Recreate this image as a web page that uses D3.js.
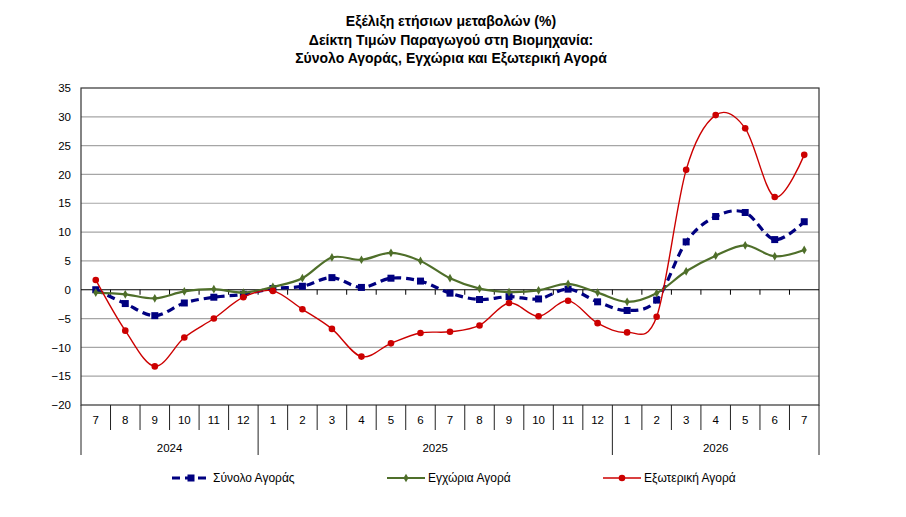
<!DOCTYPE html>
<html>
<head>
<meta charset="utf-8">
<script src="https://cdn.jsdelivr.net/npm/d3@7"></script>
<style>
    body { margin: 0; background: #fff; }
    svg text { font-family: "Liberation Sans", Arial, sans-serif; fill: #000; }
    .title { font-weight: bold; font-size: 14px; }
    .axis text { font-size: 11.5px; }
</style>
</head>
<body>
<div id="chart"></div>
<script>

// Months and years on the category axis
var months = [7, 8, 9, 10, 11, 12, 1, 2, 3, 4, 5, 6, 7, 8, 9, 10, 11, 12, 1, 2, 3, 4, 5, 6, 7];
var years = ["2024", "2025", "2026"];
var yearStart = [0, 6, 18];     // index of the first month of each year
var yTicks = [-20, -15, -10, -5, 0, 5, 10, 15, 20, 25, 30, 35];

// Annual change (%)
var totalMarket = [0.0, -2.4, -4.5, -2.3, -1.3, -0.8, 0.2, 0.6, 2.1, 0.4, 2.0, 1.5, -0.6,
    -1.7, -1.2, -1.6, 0.1, -2.1, -3.6, -1.8, 8.3, 12.7, 13.4, 8.7, 11.8];
var domesticMarket = [-0.5, -0.8, -1.5, -0.3, 0.1, -0.5, 0.5, 2.0, 5.6, 5.2, 6.4, 5.0, 2.0,
    0.2, -0.4, -0.1, 1.0, -0.5, -2.1, -0.6, 3.2, 5.9, 7.7, 5.8, 6.9];
var foreignMarket = [1.7, -7.1, -13.3, -8.3, -5.0, -1.3, -0.2, -3.4, -6.8, -11.6, -9.3, -7.5, -7.3,
    -6.2, -2.3, -4.6, -1.9, -5.8, -7.4, -4.7, 20.8, 30.3, 28.0, 16.1, 23.4];

var seriesNames = ["Σύνολο Αγοράς", "Εγχώρια Αγορά", "Εξωτερική Αγορά"];

let width = 906, height = 517;
let plot = {left: 81, right: 819, top: 88, bottom: 405};

let svg = d3.select("#chart").append("svg")
    .attr("width", width)
    .attr("height", height);

// Title
let titleLines = ["Εξέλιξη ετήσιων μεταβολών (%)",
    "Δείκτη Τιμών Παραγωγού στη Βιομηχανία:",
    "Σύνολο Αγοράς, Εγχώρια και Εξωτερική Αγορά"];
svg.selectAll(".title")
    .data(titleLines)
    .enter()
    .append("text")
    .attr("class", "title")
    .attr("x", 451)
    .attr("y", (d, i) => 26 + i * 18.5)
    .attr("text-anchor", "middle")
    .text(d => d);

// Scales
let x = d3.scaleBand()
    .domain(d3.range(months.length))
    .range([plot.left, plot.right]);

let y = d3.scaleLinear()
    .domain([-20, 35])
    .range([plot.bottom, plot.top]);

let cx = i => x(i) + x.bandwidth() / 2;

// Grid lines
svg.append("g")
    .selectAll("line")
    .data(yTicks.filter(d => d !== 0 && d !== -20 && d !== 35))
    .enter()
    .append("line")
    .attr("x1", plot.left)
    .attr("x2", plot.right)
    .attr("y1", d => y(d))
    .attr("y2", d => y(d))
    .attr("stroke", "#a6a6a6")
    .attr("stroke-width", 1.2);

// Plot frame
svg.append("rect")
    .attr("x", plot.left)
    .attr("y", plot.top)
    .attr("width", plot.right - plot.left)
    .attr("height", plot.bottom - plot.top)
    .attr("fill", "none")
    .attr("stroke", "#333")
    .attr("stroke-width", 1.2);

// Y axis
let yAxis = d3.axisLeft(y)
    .tickValues(yTicks)
    .tickSize(0)
    .tickPadding(10);

svg.append("g")
    .attr("class", "axis")
    .attr("transform", "translate(" + plot.left + ",0)")
    .call(yAxis)
    .call(g => g.select(".domain").remove());

// Zero line with small ticks on the band edges
svg.append("line")
    .attr("x1", plot.left)
    .attr("x2", plot.right)
    .attr("y1", y(0))
    .attr("y2", y(0))
    .attr("stroke", "#000")
    .attr("stroke-width", 1.2);

svg.append("g")
    .selectAll("line")
    .data(d3.range(1, months.length))
    .enter()
    .append("line")
    .attr("x1", d => x(d))
    .attr("x2", d => x(d))
    .attr("y1", y(0))
    .attr("y2", y(0) + 5)
    .attr("stroke", "#000");

// Category axis: months
let xAxis = d3.axisBottom(x)
    .tickSize(0)
    .tickPadding(11)
    .tickFormat(i => months[i]);

svg.append("g")
    .attr("class", "axis")
    .attr("transform", "translate(0," + plot.bottom + ")")
    .call(xAxis)
    .call(g => g.select(".domain").remove());

// Month separators
svg.append("g")
    .selectAll("line")
    .data(d3.range(months.length + 1))
    .enter()
    .append("line")
    .attr("x1", d => d < months.length ? x(d) : plot.right)
    .attr("x2", d => d < months.length ? x(d) : plot.right)
    .attr("y1", plot.bottom)
    .attr("y2", d => (yearStart.indexOf(d) >= 0 || d === months.length) ? 455 : 430)
    .attr("stroke", "#222")
    .attr("stroke-width", 1);

// Year labels
svg.append("g")
    .attr("class", "axis")
    .selectAll("text")
    .data(years)
    .enter()
    .append("text")
    .attr("x", (d, i) => {
        let a = x(yearStart[i]);
        let b = i + 1 < years.length ? x(yearStart[i + 1]) : plot.right;
        return (a + b) / 2;
    })
    .attr("y", 452)
    .attr("text-anchor", "middle")
    .text(d => d);

// Lines
let line = d3.line()
    .x((d, i) => cx(i))
    .y(d => y(d))
    .curve(d3.curveCatmullRom.alpha(0));

let styles = [
    {data: totalMarket, color: "#000080", width: 3.2, dash: "8,5", marker: "square"},
    {data: domesticMarket, color: "#4f6f2a", width: 2.2, dash: null, marker: "diamond"},
    {data: foreignMarket, color: "#cc0000", width: 1.4, dash: null, marker: "circle"}
];

function drawMarker(g, s, px, py) {
    if (s.marker === "square") {
        g.append("rect")
            .attr("x", px - 3.5).attr("y", py - 3.5)
            .attr("width", 7).attr("height", 7)
            .attr("fill", s.color);
    } else if (s.marker === "diamond") {
        g.append("path")
            .attr("transform", "translate(" + px + "," + py + ")")
            .attr("d", d3.symbol().type(d3.symbolDiamond).size(22)())
            .attr("fill", s.color);
    } else {
        g.append("circle")
            .attr("cx", px).attr("cy", py)
            .attr("r", 3.3)
            .attr("fill", s.color);
    }
}

styles.forEach(s => {
    let g = svg.append("g");
    g.append("path")
        .datum(s.data)
        .attr("d", line)
        .attr("fill", "none")
        .attr("stroke", s.color)
        .attr("stroke-width", s.width)
        .attr("stroke-dasharray", s.dash);
    s.data.forEach((v, i) => drawMarker(g, s, cx(i), y(v)));
});

// Legend
let legendX = [172, 387, 603];
styles.forEach((s, i) => {
    let g = svg.append("g");
    let x0 = legendX[i], x1 = legendX[i] + 38, ly = 478;
    g.append("line")
        .attr("x1", x0).attr("x2", x1)
        .attr("y1", ly).attr("y2", ly)
        .attr("stroke", s.color)
        .attr("stroke-width", s.width)
        .attr("stroke-dasharray", s.dash);
    drawMarker(g, s, (x0 + x1) / 2, ly);
    g.append("text")
        .attr("x", x1 + 3)
        .attr("y", ly + 4)
        .style("font-size", "12px")
        .text(seriesNames[i]);
});

</script>
</body>
</html>
